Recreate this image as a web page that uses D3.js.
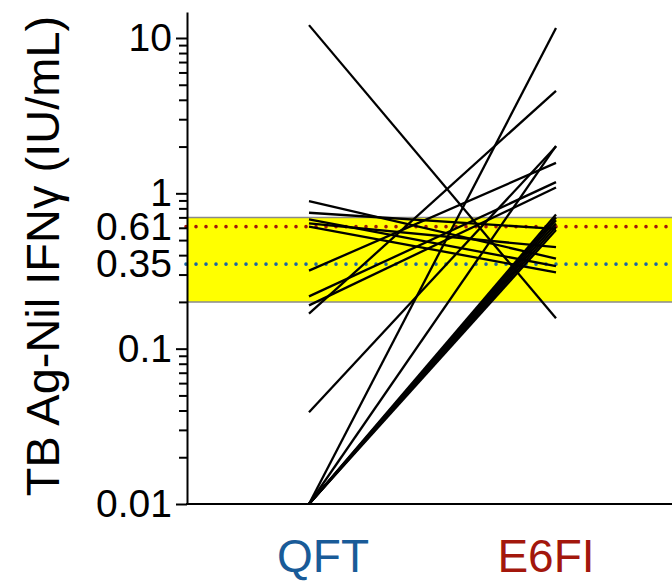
<!DOCTYPE html>
<html>
<head>
<meta charset="utf-8">
<script src="https://cdn.jsdelivr.net/npm/d3@7"></script>
<style>
  html, body { margin: 0; padding: 0; background: #fff; }
  svg { display: block; font-family: "Liberation Sans", Arial, sans-serif; }
</style>
</head>
<body>
<svg id="chart"></svg>
<script>
// Paired TB Ag-Nil IFN-gamma values, QFT vs E6FI (IU/mL)
const groups = ['QFT', 'E6FI'];
const qftValues  = [12.1, 0.89, 0.75, 0.68, 0.64, 0.61, 0.318, 0.217, 0.19, 0.168, 0.039, 0.01, 0.01, 0.01, 0.01, 0.01, 0.01, 0.01, 0.01];
const e6fiValues = [0.157, 0.38, 0.59, 0.34, 0.45, 0.31, 1.57, 1.18, 1.09, 4.57, 2.0, 11.6, 2.02, 0.73, 0.7, 0.67, 0.64, 0.61, 0.58];
const bandRange = [0.2, 0.7];
const cutoffs = [0.61, 0.35];
const majorTicks = [0.01, 0.1, 1, 10];
const yTitle = 'TB Ag-Nil IFN\u03B3 (IU/mL)';

const width = 672, height = 583;
const axisX = 187;

const svg = d3.select('#chart')
    .attr('width', width)
    .attr('height', height);

const y = d3.scaleLog()
    .domain([0.01, 14.7])
    .range([504, 12]);

const x = d3.scalePoint()
    .domain(groups)
    .range([309, 556]);

const groupColors = { QFT: '#195b98', E6FI: '#a3170c' };
const cutoffColors = ['#a3170c', '#1b66a3'];

// Yellow grey zone
svg.append('rect')
    .attr('x', axisX)
    .attr('y', y(bandRange[1]))
    .attr('width', width - axisX)
    .attr('height', y(bandRange[0]) - y(bandRange[1]))
    .attr('fill', '#ffff00');

bandRange.forEach(v => {
    svg.append('line')
        .attr('x1', axisX).attr('x2', width)
        .attr('y1', y(v)).attr('y2', y(v))
        .attr('stroke', '#8a8a8a')
        .attr('stroke-width', 1.5);
});

// Cut-off dotted lines
cutoffs.forEach((v, i) => {
    svg.append('line')
        .attr('x1', axisX - 1).attr('x2', width)
        .attr('y1', y(v)).attr('y2', y(v))
        .attr('stroke', cutoffColors[i])
        .attr('stroke-width', 3.6)
        .attr('stroke-linecap', 'round')
        .attr('stroke-dasharray', '0 10');
});

// Paired lines
qftValues.forEach((v, i) => {
    svg.append('line')
        .attr('x1', x('QFT')).attr('y1', y(v))
        .attr('x2', x('E6FI')).attr('y2', y(e6fiValues[i]))
        .attr('stroke', '#000')
        .attr('stroke-width', 2.3);
});

// Y axis: major, minor and cut-off labels
const fmt = d => String(d);

const minorAxis = svg.append('g')
    .attr('transform', `translate(${axisX},0)`)
    .call(d3.axisLeft(y).tickValues(y.ticks().filter(t => !majorTicks.includes(t)))
        .tickSizeInner(8).tickSizeOuter(0).tickFormat(''));

const majorAxis = svg.append('g')
    .attr('transform', `translate(${axisX},0)`)
    .call(d3.axisLeft(y).tickValues(majorTicks)
        .tickSizeInner(11).tickSizeOuter(0).tickPadding(4).tickFormat(fmt));

const cutAxis = svg.append('g')
    .attr('transform', `translate(${axisX},0)`)
    .call(d3.axisLeft(y).tickValues(cutoffs)
        .tickSizeInner(0).tickSizeOuter(0).tickPadding(15).tickFormat(fmt));

[minorAxis, majorAxis, cutAxis].forEach(a => {
    a.selectAll('path, line').attr('stroke', '#000').attr('stroke-width', 2);
    a.selectAll('text')
        .attr('fill', '#000')
        .style('font-size', '39px')
        .style('font-family', '"Liberation Sans", Arial, sans-serif');
});
cutAxis.select('.domain').remove();
minorAxis.select('.domain').remove();

// X axis baseline
svg.append('line')
    .attr('x1', axisX - 1).attr('x2', width)
    .attr('y1', y(0.01)).attr('y2', y(0.01))
    .attr('stroke', '#000')
    .attr('stroke-width', 2);

// Group labels
const labelShift = { QFT: 14, E6FI: -10 };
groups.forEach(gName => {
    svg.append('text')
        .attr('x', x(gName) + labelShift[gName])
        .attr('y', 572)
        .attr('text-anchor', 'middle')
        .style('font-size', '46px')
        .attr('fill', groupColors[gName])
        .text(gName);
});

// Y title
svg.append('text')
    .attr('transform', `translate(59,${(15 + 497) / 2}) rotate(-90)`)
    .attr('text-anchor', 'middle')
    .style('font-size', '47px')
    .attr('fill', '#000')
    .text(yTitle);
</script>
</body>
</html>
